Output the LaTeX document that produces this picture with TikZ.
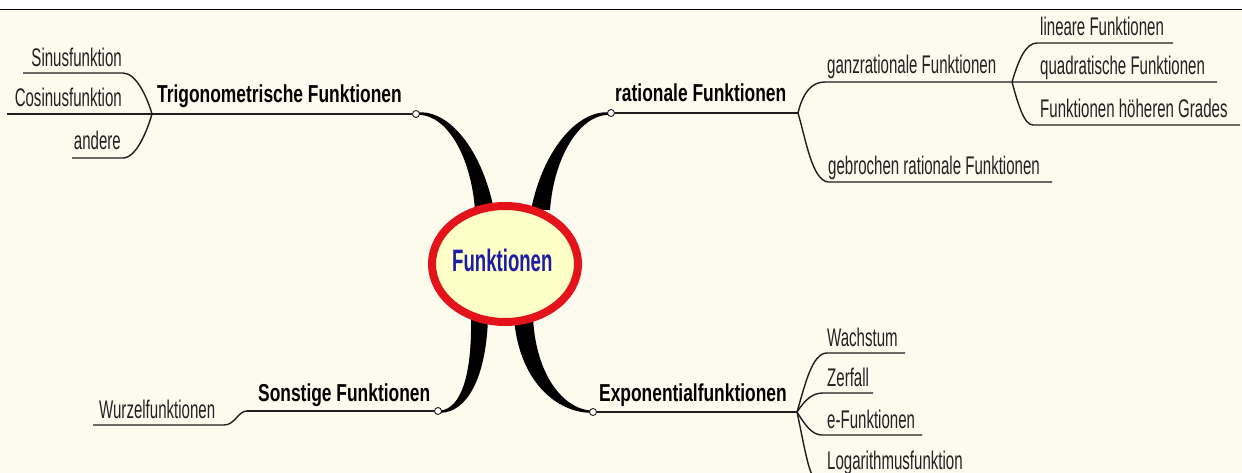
\documentclass[tikz,border=0pt]{standalone}
\usepackage{fontspec}
\usetikzlibrary{shapes.geometric}
\newfontfamily\nreg[FakeStretch=0.59]{Liberation Sans}
\newfontfamily\nbold[FakeStretch=0.71]{Liberation Sans}
\newfontfamily\ncent[FakeStretch=0.60]{Liberation Sans}
\definecolor{bg}{HTML}{FDFAEE}
\definecolor{lc}{HTML}{1E1E1E}
\definecolor{txt}{HTML}{222222}
\definecolor{rimred}{HTML}{E3121B}
\definecolor{coreyel}{HTML}{FFFFC8}
\definecolor{cblue}{HTML}{1C1CA8}
\tikzset{
  sub/.style={font={\nreg\fontsize{25.5}{25.5}\selectfont}, text=txt, inner sep=0pt},
  mainlbl/.style={font={\nbold\bfseries\fontsize{24.5}{24.5}\selectfont}, text=black, inner sep=0pt},
  ln/.style={draw=lc, line width=1.4pt},
  mln/.style={draw=lc, line width=1.8pt},
  knob/.style={circle, draw=lc, fill=white, line width=0.9pt, minimum size=7pt, inner sep=0pt},
  taper/.style={fill=black},
}
\begin{document}
\begin{tikzpicture}[x=1pt,y=-1pt]
\useasboundingbox (0,0) rectangle (1242,473);
\fill[bg] (0,0) rectangle (1242,473);
\fill[white] (0,0) rectangle (1242,9);
\draw[black, line width=1.5pt] (0,9.5) -- (1242,9.5);

% ---------- tapered main connectors ----------
\fill[taper] (419,112.3) .. controls (450,111) and (482,150) .. (494,210)
  -- (475,210) .. controls (471,156) and (447,115.5) .. (419,114.8) -- cycle;
\fill[taper] (608,112.3) .. controls (577,111) and (543,150) .. (531,210)
  -- (550,210) .. controls (554,156) and (580,115.5) .. (608,114.8) -- cycle;
\fill[taper] (441,412.8) .. controls (466,412) and (486,380) .. (488,318)
  -- (471,318) .. controls (472,378) and (460,408) .. (441,410.5) -- cycle;
\fill[taper] (590,412.8) .. controls (557,412) and (519,382) .. (514,318)
  -- (533,318) .. controls (536,375) and (563,408) .. (590,410.5) -- cycle;

% ---------- centre ----------
\node[ellipse, draw=rimred, line width=8pt, fill=coreyel,
      minimum width=146pt, minimum height=116pt] (c) at (505,264) {};
\node[font={\ncent\bfseries\fontsize{31}{31}\selectfont}, text=cblue,
      inner sep=0pt, anchor=base west] (ctext) at (452,271) {Funktionen};

% ---------- Trigonometrische Funktionen ----------
\node[knob] (kt) at (416,114) {};
\coordinate (trigB) at (152,114);
\coordinate (cosL) at (7,114);
\coordinate (sinL) at (23,73);  \coordinate (sinR) at (123,73);
\coordinate (andL) at (72,158); \coordinate (andR) at (123,158);
\draw[mln] (cosL) -- (trigB) -- (kt);
\draw[ln] (sinL) -- (sinR) .. controls (137,73) and (148,100) .. (trigB);
\draw[ln] (andL) -- (andR) .. controls (137,158) and (148,128) .. (trigB);
\node[mainlbl, anchor=base west] (trig) at (157,103) {Trigonometrische Funktionen};
\node[sub, anchor=base east] (sin) at (122,67) {Sinusfunktion};
\node[sub, anchor=base east] (cos) at (122,107) {Cosinusfunktion};
\node[sub, anchor=base east] (and) at (121,150) {andere};

% ---------- rationale Funktionen ----------
\node[knob] (kr) at (611,113) {};
\coordinate (ratB) at (798,113);
\draw[mln] (kr) -- (ratB);
\node[mainlbl, anchor=base west] (rat) at (615,102) {rationale Funktionen};
\coordinate (ganzL) at (825,82); \coordinate (ganzB) at (1012,82);
\coordinate (quadR) at (1217,82);
\coordinate (linL) at (1037,43); \coordinate (linR) at (1173,43);
\coordinate (hohL) at (1033,125); \coordinate (hohR) at (1240,125);
\coordinate (gebL) at (828,182); \coordinate (gebR) at (1052,182);
\draw[ln] (ratB) .. controls (803,92) and (812,82) .. (ganzL) -- (ganzB) -- (quadR);
\draw[ln] (ratB) .. controls (806,140) and (812,180) .. (gebL) -- (gebR);
\draw[ln] (ganzB) .. controls (1018,62) and (1025,43) .. (linL) -- (linR);
\draw[ln] (ganzB) .. controls (1018,104) and (1024,125) .. (hohL) -- (hohR);
\node[sub, anchor=base west] (ganz) at (827,74) {ganzrationale Funktionen};
\node[sub, anchor=base west] (lin) at (1040,36) {lineare Funktionen};
\node[sub, anchor=base west] (quad) at (1040,75) {quadratische Funktionen};
\node[sub, anchor=base west] (hoh) at (1040,118) {Funktionen höheren Grades};
\node[sub, anchor=base west] (geb) at (828,175) {gebrochen rationale Funktionen};

% ---------- Exponentialfunktionen ----------
\node[knob] (ke) at (593,412) {};
\coordinate (expB) at (797,412);
\draw[mln] (ke) -- (expB);
\node[mainlbl, anchor=base west] (exp) at (599,401) {Exponentialfunktionen};
\coordinate (wachL) at (827,353); \coordinate (wachR) at (905,353);
\coordinate (zerL) at (823,393);  \coordinate (zerR) at (873,393);
\coordinate (efL) at (822,435);   \coordinate (efR) at (922,435);
\coordinate (logL) at (813,476);  \coordinate (logR) at (970,476);
\draw[ln] (expB) .. controls (805,385) and (812,353) .. (wachL) -- (wachR);
\draw[ln] (expB) .. controls (805,400) and (812,393) .. (zerL) -- (zerR);
\draw[ln] (expB) .. controls (805,425) and (812,435) .. (efL) -- (efR);
\draw[ln] (expB) .. controls (803,440) and (808,470) .. (logL) -- (logR);
\node[sub, anchor=base west] (wach) at (827,346) {Wachstum};
\node[sub, anchor=base west] (zer) at (827,386) {Zerfall};
\node[sub, anchor=base west] (ef) at (827,428) {e-Funktionen};
\node[sub, anchor=base west] (log) at (827,469) {Logarithmusfunktion};

% ---------- Sonstige Funktionen ----------
\node[knob] (ks) at (438,411) {};
\coordinate (sonB) at (247,411);
\coordinate (wurL) at (93,425); \coordinate (wurR) at (224,425);
\draw[mln] (ks) -- (sonB);
\draw[ln] (wurL) -- (wurR) .. controls (235,425) and (238,411) .. (sonB);
\node[mainlbl, anchor=base west] (son) at (258,401) {Sonstige Funktionen};
\node[sub, anchor=base west] (wur) at (99,418) {Wurzelfunktionen};
\end{tikzpicture}
\end{document}
